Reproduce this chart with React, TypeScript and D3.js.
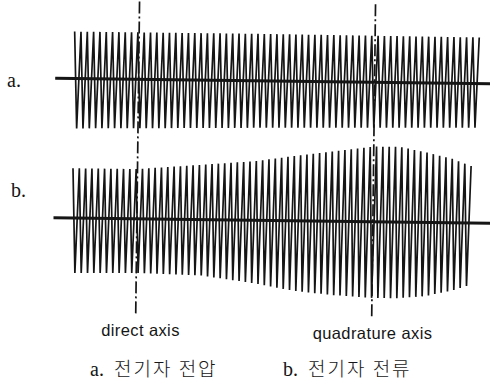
import * as d3 from "d3";

const width = 490;
const height = 383;

// rotor position in electrical degrees: direct axis = 0, quadrature axis = 90
const axisAngles = [0, 90];
const axisNames = ["direct axis", "quadrature axis"];

// a. armature voltage – envelope (per unit of nominal peak)
const voltAngles = [-25, 45, 130];
const voltUpper = [1.0, 1.0, 0.98];
const voltLower = [1.06, 1.0, 0.94];
const voltSpan = [-24.6, 129.7];
const voltCycles = 64;

// b. armature current – envelope grows towards the quadrature axis
const currAngles = [-25, 0, 25, 45, 60, 75, 90, 100, 110, 120, 127.2];
const currUpper = [1.06, 1.06, 1.17, 1.26, 1.38, 1.49, 1.6, 1.6, 1.49, 1.36, 1.21];
const currLower = [1.17, 1.15, 1.19, 1.34, 1.49, 1.57, 1.62, 1.62, 1.57, 1.45, 1.32];
const currSpan = [-24.6, 127.2];
const currCycles = 63;

const rowLabels = ["a.", "b."];
const captions = [
  { tag: "a.", text: "전기자 전압" },
  { tag: "b.", text: "전기자 전류" },
];

const ink = "#151515";

const x = d3.scaleLinear().domain([0, 90]).range([137.5, 373.5]);
const amp = d3.scaleLinear().domain([-1, 1]).range([47, -47]);
const rowBase = [81, 220.5];
const baseSpan = [-31.8, 135];

type Wave = {
  angles: number[];
  upper: number[];
  lower: number[];
  span: number[];
  cycles: number;
};

const waves: Wave[] = [
  { angles: voltAngles, upper: voltUpper, lower: voltLower, span: voltSpan, cycles: voltCycles },
  { angles: currAngles, upper: currUpper, lower: currLower, span: currSpan, cycles: currCycles },
];

function wavePath(w: Wave, base: number) {
  const up = d3.scaleLinear().domain(w.angles).range(w.upper).clamp(true);
  const lo = d3.scaleLinear().domain(w.angles).range(w.lower).clamp(true);
  const n = w.cycles * 2;
  const step = (w.span[1] - w.span[0]) / n;
  const pts: [number, number][] = d3.range(n + 1).map((k) => {
    const t = w.span[0] + k * step;
    return [t, k % 2 === 0 ? up(t) : -lo(t)];
  });
  return d3
    .line<[number, number]>()
    .x((d) => x(d[0]))
    .y((d) => base + amp(d[1]))(pts);
}

export default function App() {
  return (
    <svg
      width={width}
      height={height}
      viewBox={`0 0 ${width} ${height}`}
      style={{ position: "absolute", left: 0, top: 0, background: "#fff" }}
    >
      <g transform="rotate(0.7, 270, 170)">
        {waves.map((w, i) => (
          <g key={i}>
            <path
              d={wavePath(w, rowBase[i]) ?? ""}
              fill="none"
              stroke={ink}
              strokeWidth={1.7}
              strokeLinejoin="miter"
            />
            <line
              x1={x(baseSpan[0])}
              x2={x(baseSpan[1])}
              y1={rowBase[i]}
              y2={rowBase[i]}
              stroke={ink}
              strokeWidth={3}
            />
          </g>
        ))}
        {axisAngles.map((a) => (
          <line
            key={a}
            x1={x(a)}
            x2={x(a)}
            y1={3}
            y2={317}
            stroke={ink}
            strokeWidth={1.7}
            strokeDasharray="12 3 2 3"
          />
        ))}
      </g>

      {rowLabels.map((l, i) => (
        <text
          key={l}
          x={i === 0 ? 7 : 11}
          y={i === 0 ? 87 : 197}
          fontFamily="Liberation Serif"
          fontSize={20}
          fill={ink}
        >
          {l}
        </text>
      ))}

      {axisNames.map((n, i) => (
        <text
          key={n}
          x={x(axisAngles[i]) + (i === 0 ? 3 : -1)}
          y={i === 0 ? 336 : 339}
          textAnchor="middle"
          fontFamily="Liberation Sans"
          fontSize={16.5}
          letterSpacing={0.4}
          fill={ink}
        >
          {n}
        </text>
      ))}

      {captions.map((c, i) => (
        <text key={c.tag} x={i === 0 ? 90 : 283} y={376} fill={ink}>
          <tspan fontFamily="Liberation Serif" fontSize={20}>
            {c.tag}
          </tspan>
          <tspan
            x={i === 0 ? 114 : 308}
            fontFamily="Noto Sans CJK KR"
            fontSize={19}
            letterSpacing={2}
            fontWeight={300}
          >
            {c.text}
          </tspan>
        </text>
      ))}
    </svg>
  );
}
